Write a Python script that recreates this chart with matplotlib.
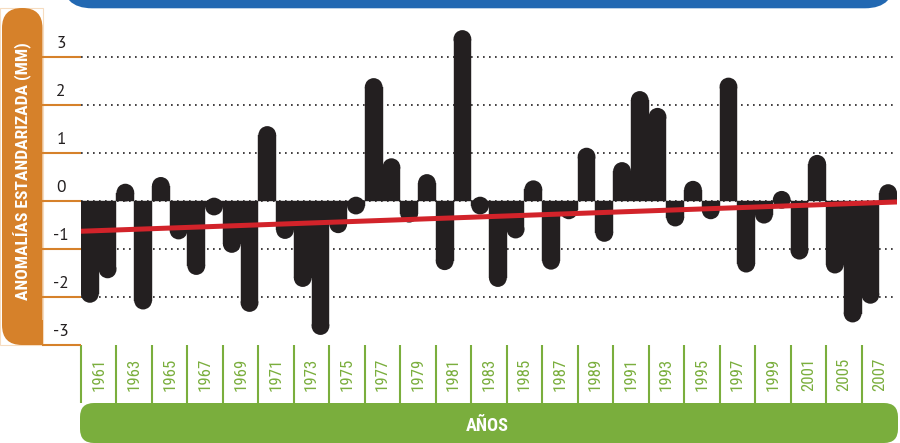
import matplotlib
matplotlib.use('Agg')
import matplotlib.pyplot as plt
from matplotlib.patches import FancyBboxPatch, Rectangle, Ellipse
from matplotlib import font_manager
from matplotlib.transforms import blended_transform_factory, offset_copy

# ---------------- data ----------------
years = list(range(1961, 2007))
anomalies = [-2.12, -1.61, 0.36, -2.26, 0.50, -0.80, -1.54, -0.30, -1.08, -2.31,
             1.56, -0.79, -1.79, -2.79, -0.67, -0.28, 2.56, 0.89, -0.45, 0.56,
             -1.44, 3.56, -0.28, -1.79, -0.78, 0.43, -1.43, -0.38, 1.11, -0.85,
             0.81, 2.29, 1.94, -0.53, 0.42, -0.38, 2.57, -1.49, -0.47, 0.21,
             -1.22, 0.96, -1.51, -2.53, -2.14, 0.35]
year_tick_labels = ['1961', '1963', '1965', '1967', '1969', '1971', '1973', '1975',
                    '1977', '1979', '1981', '1983', '1985', '1987', '1989', '1991',
                    '1993', '1995', '1997', '1999', '2001', '2005', '2007']
y_ticks = [-3, -2, -1, 0, 1, 2, 3]
y_tick_labels = ['-3', '-2', '-1', '0', '1', '2', '3']
grid_levels = [-2, -1, 0, 1, 2, 3]
trend_ends = [-0.63, -0.02]
ylabel = 'ANOMALÍAS ESTANDARIZADA (MM)'
xlabel = 'AÑOS'

# ---------------- style ----------------
BAR = '#231f20'
ORANGE = '#d6812a'
GREEN = '#7aae3d'
BLUE = '#2268b2'
RED = '#d2232a'


def _w(f):
    w = f.weight
    if isinstance(w, str):
        w = font_manager.weight_dict.get(w, 400)
    return w


def pick(cands, bold=False):
    for c in cands:
        for f in font_manager.fontManager.ttflist:
            if f.name == c and (_w(f) >= 700 if bold else _w(f) == 400):
                return c
    return 'DejaVu Sans'


NARROW_CANDS = ['Roboto Condensed', 'PT Sans Narrow', 'Fira Sans Condensed',
                'Archivo Narrow', 'Barlow Semi Condensed', 'Encode Sans Condensed',
                'Asap Condensed', 'Liberation Sans Narrow', 'Oswald']
NARROW_B = pick(NARROW_CANDS, bold=True)
NARROW_R = pick(NARROW_CANDS, bold=False)
REG = pick(['Source Sans 3', 'Source Sans Pro', 'PT Sans', 'Liberation Sans'])

W, H = 900, 443
fig = plt.figure(figsize=(W / 100, H / 100), dpi=100)

# background decoration axes in pixel coordinates
bg = fig.add_axes([0, 0, 1, 1], zorder=0)
bg.set_xlim(0, W)
bg.set_ylim(H, 0)
bg.axis('off')

bg.add_patch(FancyBboxPatch((62, -60), 833, 68.3,
                            boxstyle='round,pad=0,rounding_size=30',
                            facecolor=BLUE, edgecolor='none'))
bg.add_patch(Rectangle((0, 8), 42.5, 337, facecolor='none',
                       edgecolor='#f6dcc0', lw=0.8))
bg.add_patch(FancyBboxPatch((2, 8), 40.5, 337,
                            boxstyle='round,pad=0,rounding_size=20',
                            facecolor=ORANGE, edgecolor='none'))
bg.add_patch(Rectangle((22, 320), 20.5, 25, facecolor=ORANGE, edgecolor='none'))
bg.add_patch(FancyBboxPatch((80, 403), 818, 40,
                            boxstyle='round,pad=0,rounding_size=14',
                            facecolor=GREEN, edgecolor='none'))

# ---------------- main axes ----------------
ax_left, ax_right, ax_top, ax_bot = 81, 897, 8, 345
ax = fig.add_axes([ax_left / W, (H - ax_bot) / H, (ax_right - ax_left) / W,
                   (ax_bot - ax_top) / H], zorder=1)
ax.patch.set_alpha(0)
n = len(anomalies)
ymin = -3
px_per_unit = (345 - 57) / 6.0
ymax = 3 + (57 - ax_top) / px_per_unit
ax.set_xlim(-0.5, n - 0.5)
ax.set_ylim(ymin, ymax)
for s in ax.spines.values():
    s.set_visible(False)

px_per_x = (ax_right - ax_left) / n
r_y = (px_per_x / 2) / px_per_unit

for lvl in grid_levels:
    ax.axhline(lvl, color=BAR, lw=1.2, ls=(0, (1, 2.6)), zorder=1)

xs = list(range(n))
for x, v in zip(xs, anomalies):
    sgn = 1 if v >= 0 else -1
    body = v - sgn * r_y
    ax.bar(x, body, width=1.0, color=BAR, edgecolor=BAR, linewidth=0.3, zorder=2)
    ax.add_patch(Ellipse((x, body), 1.0, 2 * r_y, facecolor=BAR,
                         edgecolor='none', zorder=2))

ax.plot([-0.5, n - 0.5], trend_ends, color=RED, lw=3.6, zorder=3,
        solid_capstyle='butt')

# y ticks: orange tick lines, labels above them
ax.set_yticks(y_ticks)
ax.set_yticklabels([])
ax.tick_params(axis='y', length=39 * 0.72, width=1.5, color=ORANGE, direction='out')
trans = offset_copy(blended_transform_factory(ax.transAxes, ax.transData),
                    fig=fig, x=0, y=13, units='dots')
for t, lab in zip(y_ticks, y_tick_labels):
    ax.text(-20 / (ax_right - ax_left), t, lab, transform=trans, ha='center',
            va='center', fontsize=12.5, color=BAR, family=REG)

# x ticks: labels centered in 2-year cells, green separators as minor ticks
ax.set_xticks([2 * k + 0.5 for k in range(len(year_tick_labels))])
ax.set_xticklabels(year_tick_labels, rotation=90, color=GREEN, fontsize=13,
                   family=NARROW_R)
ax.set_xticks([2 * k - 0.5 for k in range(len(year_tick_labels))], minor=True)
ax.tick_params(axis='x', which='major', length=0, pad=9.0)
ax.tick_params(axis='x', which='minor', length=58 * 0.72, width=1.5, color=GREEN,
               direction='out')

yl = fig.text(23 / W, 1 - 171.5 / H, ylabel, rotation=90, color='white',
              fontweight='bold', fontsize=14, family=NARROW_B, ha='center', va='center')
xl = fig.text(487 / W, 1 - 431 / H, xlabel, color='white', fontweight='bold',
              fontsize=14, family=NARROW_B, ha='center', va='baseline')

# fit text sizes to the reference's measured extents
fig.canvas.draw()
r = fig.canvas.get_renderer()
h = yl.get_window_extent(r).height
yl.set_fontsize(min(14 * 258.0 / h, 17))
w = xl.get_window_extent(r).width
xl.set_fontsize(min(14 * 43.0 / w, 17))
labs = ax.get_xticklabels()
if labs:
    lh = labs[0].get_window_extent(r).height
    ax.tick_params(axis='x', which='major', labelsize=min(13 * 33.0 / lh, 15))

fig.savefig('out.png', dpi=100)
